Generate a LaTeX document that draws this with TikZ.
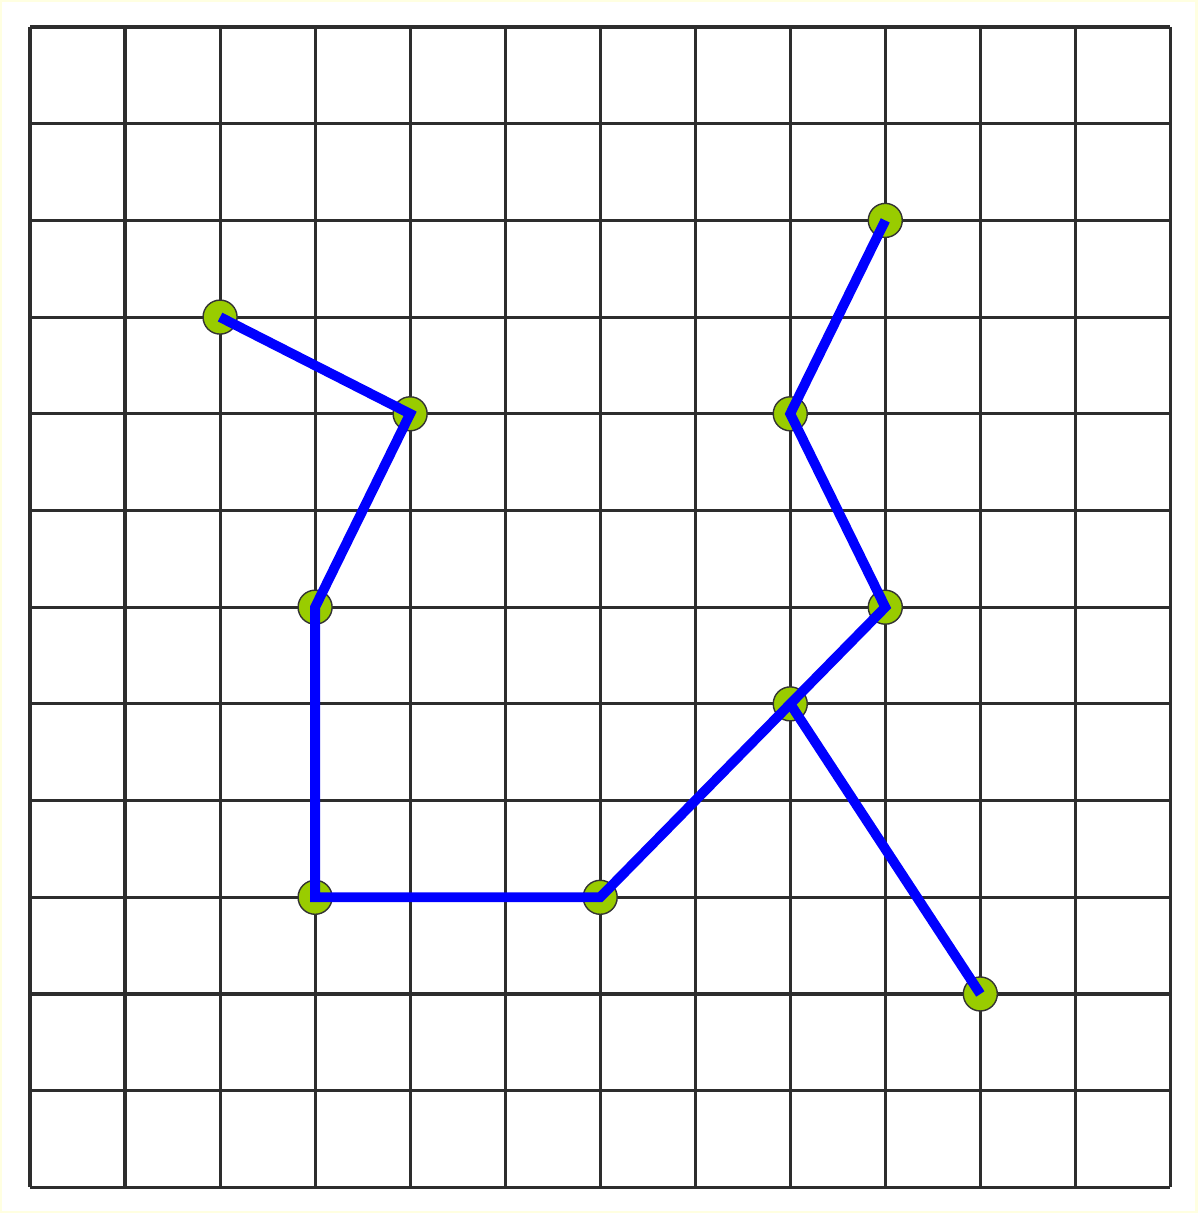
\documentclass[tikz,border=0pt]{standalone}
\usetikzlibrary{positioning}
\definecolor{dotgreen}{RGB}{153,204,0}
\definecolor{pathblue}{RGB}{0,0,255}
\definecolor{gridgray}{RGB}{45,45,45}
\definecolor{framey}{RGB}{255,255,225}
\tikzset{
  gridline/.style={draw=gridgray, line width=2.2pt},
  vertex/.style={circle, draw=black!80, fill=dotgreen, line width=1pt,
                 minimum size=0.85cm, inner sep=0pt},
  edge/.style={draw=pathblue, line width=7pt},
}
\begin{document}
\begin{tikzpicture}[x=2.375cm, y=-2.4167cm]
    \useasboundingbox (-0.3158,-0.2792) rectangle (12.284,12.265);
    \draw[draw=framey, fill=white, line width=2pt]
         (-0.3048,-0.2690) rectangle (12.273,12.255);
    % grid
    \foreach \i in {0,...,12} {
      \draw[gridline] (\i,0) -- (\i,12);
      \draw[gridline] (0,\i) -- (12,\i);
    }
    % points
    \node[vertex] (p1) at (2,3) {};
    \node[vertex] (p2) at (4,4) {};
    \node[vertex] (p3) at (3,6) {};
    \node[vertex] (p4) at (3,9) {};
    \node[vertex] (p5) at (6,9) {};
    \node[vertex] (p6) at (8,7) {};
    \node[vertex] (p7) at (9,6) {};
    \node[vertex] (p8) at (8,4) {};
    \node[vertex] (p9) at (9,2) {};
    \node[vertex] (p10) at (10,10) {};
    % path
    \draw[edge] (p1.center) -- (p2.center) -- (p3.center) -- (p4.center)
      -- (p5.center) -- (p6.center) -- (p7.center) -- (p8.center) -- (p9.center);
    \draw[edge] (p6.center) -- (p10.center);
\end{tikzpicture}
\end{document}
